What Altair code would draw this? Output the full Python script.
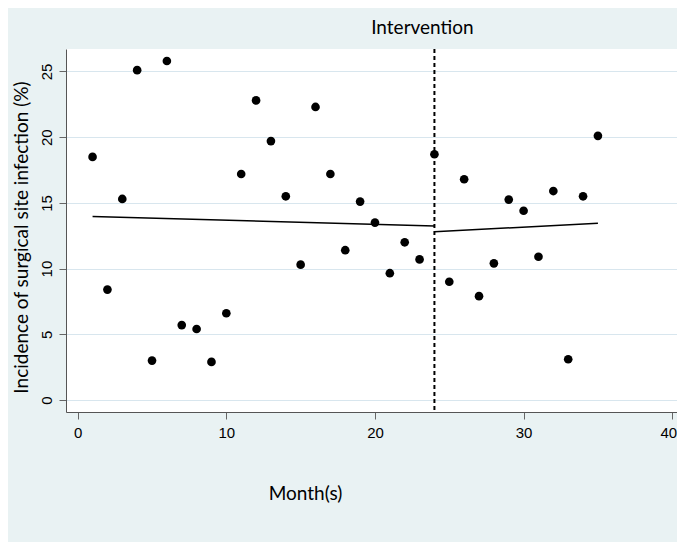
import altair as alt
import pandas as pd

months = list(range(1, 36))
incidence = [18.5, 8.4, 15.3, 25.1, 3.0, 25.8, 5.7, 5.4, 2.9, 6.6,
             17.2, 22.8, 19.7, 15.5, 10.3, 22.3, 17.2, 11.4, 15.1, 13.5,
             9.65, 12.0, 10.7, 18.7, 9.0, 16.8, 7.9, 10.4, 15.25, 14.4,
             10.9, 15.9, 3.1, 15.5, 20.1]

pre_fit_x = [1, 24]
pre_fit_y = [13.96, 13.25]
post_fit_x = [24, 35]
post_fit_y = [12.8, 13.45]

intervention_month = [24]
intervention_label = ["Intervention"]

x_ticks = [0, 10, 20, 30, 40]
y_ticks = [0, 5, 10, 15, 20, 25]

pts = pd.DataFrame({"month": months, "inc": incidence})
fit = pd.DataFrame({
    "month": pre_fit_x + post_fit_x,
    "inc": pre_fit_y + post_fit_y,
    "seg": ["pre", "pre", "post", "post"],
})
vline = pd.DataFrame({"month": intervention_month, "label": intervention_label})

xscale = alt.Scale(domain=[-0.787, 40.32], nice=False, zero=False)
yscale = alt.Scale(domain=[-0.913, 26.71], nice=False, zero=False)

label_font = "Liberation Sans"
title_font = "Lato"

x_axis = alt.Axis(
    values=x_ticks, grid=False, tickSize=7, tickColor="#666666",
    domainColor="#555555", labelFont=label_font, labelFontSize=15,
    labelColor="#000000", labelPadding=6,
    labelOffset={"condition": {"test": "datum.value === 40", "value": -4}, "value": 0},
    title="Month(s)",
    titleFont=title_font, titleFontSize=19, titleFontWeight="normal",
    titleColor="#000000", titleX=239, titleY=81, titleAnchor="start",
    titleAlign="center", titleBaseline="middle",
)
y_axis = alt.Axis(
    values=y_ticks, grid=True, gridColor="#d8e6ee", gridWidth=1,
    tickSize=7, tickColor="#666666", domainColor="#555555",
    labelFont=label_font, labelFontSize=15, labelColor="#000000",
    labelAngle=270, labelAlign="center", labelBaseline="bottom", labelPadding=5,
    title="Incidence of surgical site infection (%)", titleFont=title_font,
    titleFontSize=19, titleFontWeight="normal", titleColor="#000000",
    titleX=-45, titleY=188, titleAngle=270, titleAlign="center",
    titleBaseline="middle", titleAnchor="start",
)

points = alt.Chart(pts).mark_circle(color="black", opacity=1, size=75).encode(
    x=alt.X("month:Q", scale=xscale, axis=x_axis),
    y=alt.Y("inc:Q", scale=yscale, axis=y_axis),
)

lines = alt.Chart(fit).mark_line(color="black", strokeWidth=1.5).encode(
    x=alt.X("month:Q", scale=xscale),
    y=alt.Y("inc:Q", scale=yscale),
    detail="seg:N",
)

rule = alt.Chart(vline).mark_rule(color="black", strokeWidth=2, strokeDash=[4, 3]).encode(
    x=alt.X("month:Q", scale=xscale),
)

label = alt.Chart(vline).mark_text(
    font=title_font, fontSize=19, color="black", dx=-12, baseline="middle"
).encode(
    x=alt.X("month:Q", scale=xscale),
    y=alt.value(-21),
    text="label:N",
)

chart = alt.layer(rule, lines, points, label).properties(
    width=611, height=363,
    autosize=alt.AutoSizeParams(type="none"),
    padding={"left": 58, "top": 41, "right": 0, "bottom": 130},
    background="#e9f2f3",
).configure_view(fill="white", stroke=None)

chart.save("out.html", embed_options={"renderer": "svg", "actions": False})
